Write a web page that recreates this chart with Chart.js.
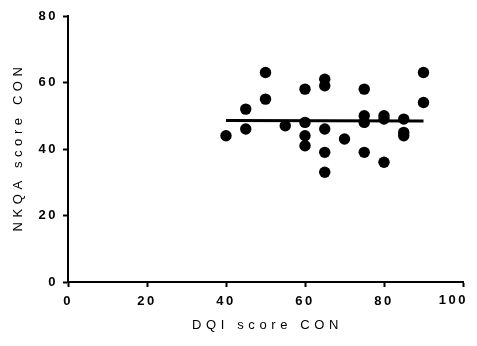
<!DOCTYPE html>
<html>
<head>
<meta charset="utf-8">
<script src="https://cdn.jsdelivr.net/npm/chart.js@4"></script>
<style>
  html, body { margin: 0; padding: 0; background: #fff; }
  #wrap { width: 477px; height: 346px; }
</style>
</head>
<body>
<div id="wrap"><canvas id="scatter"></canvas></div>
<script>
// DQI vs NKQA scores, one point per subject
const dqi  = [40, 45, 45, 50, 50, 55, 60, 60, 60, 60, 65, 65, 65, 65, 65, 70, 75, 75, 75, 75, 80, 80, 80, 85, 85, 85, 90, 90];
const nkqa = [44, 52, 46, 63, 55, 47, 58, 48, 44, 41, 61, 59, 46, 39, 33, 43, 58, 50, 48, 39, 50, 49, 36, 49, 45, 44, 63, 54];

// fitted line ends
const fitX = [40, 90];
const fitY = [48.6, 48.4];

const xTicks = [0, 20, 40, 60, 80, 100];
const yTicks = [0, 20, 40, 60, 80];
const xTitle = 'DQI score CON';
const yTitle = 'NKQA score CON';

const tickFont = { family: '"Liberation Sans", Arial, sans-serif', size: 13, weight: 'bold' };
const tickSpacing = '2.5px';
const lastX = xTicks[xTicks.length - 1];

const axisCommon = {
    grid: { drawOnChartArea: false, drawTicks: true, tickLength: 5, tickWidth: 2, tickColor: '#000' },
    border: { display: true, color: '#000', width: 2 },
    ticks: { color: '#000', font: tickFont, maxRotation: 0, autoSkip: false }
};

// spaced-out tick labels, the pulled-in last x label, and the axis titles
const spacedText = {
    id: 'spacedText',
    beforeDraw(chart) {
        chart.ctx.letterSpacing = tickSpacing;
    },
    afterDraw(chart) {
        const ctx = chart.ctx;
        const area = chart.chartArea;
        const xs = chart.scales.x;
        ctx.save();
        ctx.fillStyle = '#000';

        // last x label sits inside the canvas edge
        ctx.letterSpacing = tickSpacing;
        ctx.font = 'bold 13px "Liberation Sans", Arial, sans-serif';
        ctx.textAlign = 'right';
        ctx.textBaseline = 'top';
        ctx.fillText(String(lastX), xs.getPixelForValue(lastX) + 5, area.bottom + 12);

        ctx.letterSpacing = '4.6px';
        ctx.font = '13px "Liberation Sans", Arial, sans-serif';
        ctx.textAlign = 'center';
        ctx.textBaseline = 'middle';
        ctx.fillText(xTitle, (area.left + area.right) / 2 + 2, 325);
        ctx.translate(18, (area.top + area.bottom) / 2);
        ctx.rotate(-Math.PI / 2);
        ctx.fillText(yTitle, 2, 0);
        ctx.restore();
        ctx.letterSpacing = tickSpacing;
    }
};

new Chart(document.getElementById('scatter'), {
    type: 'scatter',
    data: {
        datasets: [
            {
                data: dqi.map((x, i) => ({ x: x, y: nkqa[i] })),
                backgroundColor: '#000',
                borderWidth: 0,
                pointRadius: 5.7,
                pointHoverRadius: 5.7
            },
            {
                type: 'line',
                data: fitX.map((x, i) => ({ x: x, y: fitY[i] })),
                borderColor: '#000',
                borderWidth: 3,
                pointRadius: 0,
                fill: false
            }
        ]
    },
    options: {
        responsive: true,
        maintainAspectRatio: false,
        animation: false,
        events: [],
        layout: { padding: { left: 0, top: 16, right: 14, bottom: 0 } },
        plugins: { legend: { display: false }, tooltip: { enabled: false } },
        scales: {
            x: {
                ...axisCommon,
                type: 'linear',
                min: 0,
                max: 100,
                ticks: {
                    ...axisCommon.ticks,
                    padding: 7,
                    callback: v => (v === lastX ? '' : v)
                },
                afterBuildTicks: s => { s.ticks = xTicks.map(v => ({ value: v })); },
                afterFit: s => { s.height = 64; }
            },
            y: {
                ...axisCommon,
                min: 0,
                max: 80,
                ticks: { ...axisCommon.ticks, padding: 5 },
                afterBuildTicks: s => { s.ticks = yTicks.map(v => ({ value: v })); },
                afterFit: s => { s.width = 68; }
            }
        }
    },
    plugins: [spacedText]
});
</script>
</body>
</html>
